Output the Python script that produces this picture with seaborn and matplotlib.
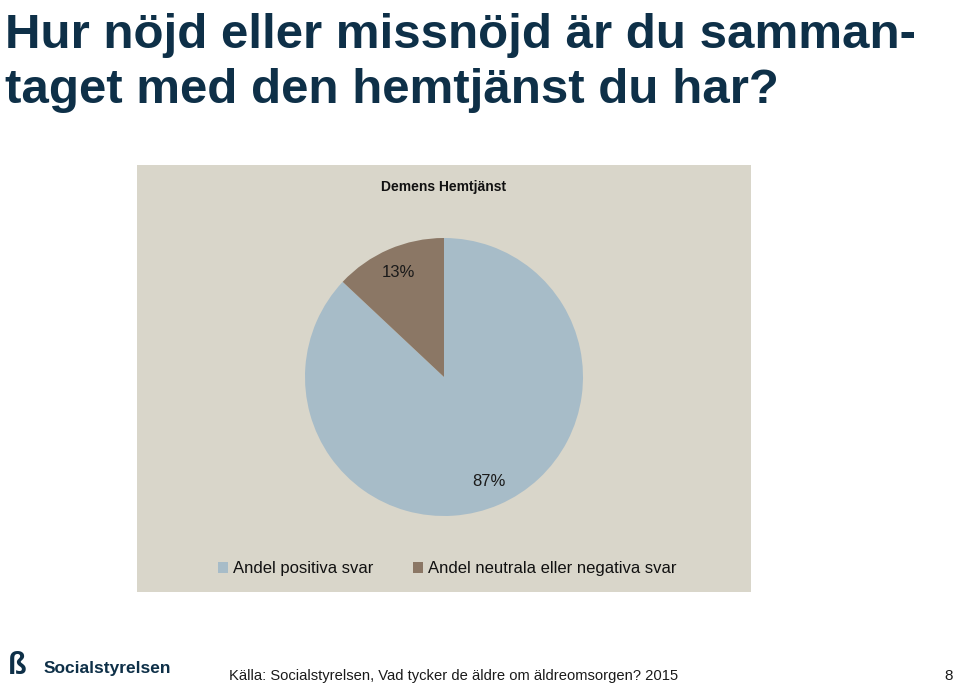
import matplotlib
matplotlib.use("Agg")
import matplotlib.pyplot as plt
import seaborn as sns
from matplotlib.patches import Patch

categories = ["Andel positiva svar", "Andel neutrala eller negativa svar"]
values = [87, 13]
colors = ["#A7BCC8", "#8B7765"]
chart_title = "Demens Hemtjänst"
title_lines = ["Hur nöjd eller missnöjd är du samman-", "taget med den hemtjänst du har?"]
source = "Källa: Socialstyrelsen, Vad tycker de äldre om äldreomsorgen? 2015"

sns.set_theme(style="white")
plt.rcParams['font.family'] = ['Liberation Sans', 'DejaVu Sans']

W, H = 959, 688
fig = plt.figure(figsize=(W / 100, H / 100), dpi=100)
fig.patch.set_facecolor("white")

def fr(x0, y0, x1, y1):
    return [x0 / W, 1 - y1 / H, (x1 - x0) / W, (y1 - y0) / H]

# chart box
box = fig.add_axes(fr(137, 165, 751, 592))
box.set_facecolor("#D9D6CA")
box.set_xticks([]); box.set_yticks([])
for s in box.spines.values():
    s.set_visible(False)

# pie
pax = fig.add_axes(fr(305, 238, 583, 516))
wedges, _, autotexts = pax.pie(values, colors=colors, startangle=90, counterclock=False,
                               autopct=lambda p: f"{p:.0f}%", pctdistance=0.82,
                               wedgeprops=dict(linewidth=0),
                               textprops=dict(fontsize=12, color="#1a1a1a"))
pax.set_xlim(-1, 1); pax.set_ylim(-1, 1)
pax.set_aspect("equal")
pax.axis("off")

fig.text(444 / W, 1 - 187 / H, chart_title, ha="center", va="center",
         fontsize=10, fontweight="bold", color="#111111")

# legend
handles = [Patch(facecolor=c, edgecolor="none") for c in colors]
fig.legend(handles, categories, loc="center", bbox_to_anchor=(447 / W, 1 - 569 / H),
           ncol=2, frameon=False, fontsize=12, handlelength=0.6, handleheight=0.6,
           handletextpad=0.3, columnspacing=2.4, labelcolor="#111111")

# slide title
for i, line in enumerate(title_lines):
    fig.text(5 / W, 1 - (48 + 55 * i) / H, line, ha="left", va="baseline", fontsize=35.5,
             fontweight="bold", color="#0E3048")

# footer
fig.text(229 / W, 1 - 676 / H, source, ha="left", va="center", fontsize=10.6,
         color="#1a1a1a")
fig.text(953 / W, 1 - 676 / H, "8", ha="right", va="center", fontsize=11,
         color="#1a1a1a")
fig.text(44 / W, 1 - 668 / H, "Socialstyrelsen", ha="left", va="center", fontsize=12.5,
         fontweight="bold", color="#0E3048")
fig.text(8 / W, 1 - 666 / H, "ß", ha="left", va="center", fontsize=22,
         fontweight="bold", color="#0E3048")

fig.savefig("out.png", dpi=100)
